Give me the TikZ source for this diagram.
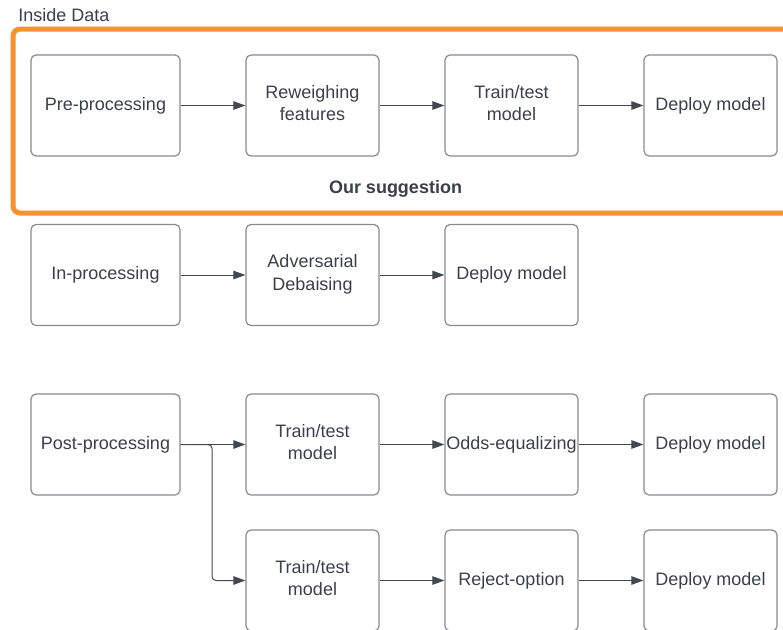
\documentclass[tikz,border=0pt]{standalone}
\usepackage{fontspec}
\setmainfont{Liberation Sans}
\usetikzlibrary{arrows.meta}

\definecolor{txtgray}{RGB}{58,64,74}
\definecolor{boxgray}{RGB}{135,138,144}
\definecolor{linegray}{RGB}{66,71,80}
\definecolor{frameorange}{RGB}{247,146,46}

\tikzset{every picture/.style={line width=0.75pt}}
\tikzset{
  stage/.style={draw=boxgray, line width=1.2pt, rounded corners=5pt, minimum height=101pt,
    align=center, text=txtgray, inner sep=0pt, font=\fontsize{18}{22.5}\selectfont},
  widestage/.style={stage, minimum width=149pt},
  narrowstage/.style={stage, minimum width=133pt},
  twoline/.style={narrowstage, text depth=5.5pt},
  conn/.style={draw=linegray, line width=1pt, -{Triangle[length=12pt,width=8.5pt]}},
  label/.style={text=txtgray, inner sep=0pt, font=\fontsize{18}{22.5}\selectfont}
}

\begin{document}
\begin{tikzpicture}[x=1pt,y=1pt,yscale=-1]
\clip (0,0) rectangle (783,629);

%Shape: Orange frame
\draw [frameorange, line width=5pt, rounded corners=7pt] (13,29) rectangle (820,213) ;

% Text Node
\node [label, anchor=base west] (inside) at (18,21) {Inside Data};
% Text Node
\node [label, anchor=base, font=\fontsize{18}{22.5}\selectfont\bfseries] (ours) at (395.5,193) {Our suggestion};

%Row 1: pre-processing
\node [widestage] (pre) at (105.5,105.5) {Pre-processing};
\node [twoline] (rew) at (312.5,105.5) {Reweighing\\features};
\node [twoline] (train1) at (511.5,105.5) {Train/test\\model};
\node [narrowstage] (deploy1) at (710.5,105.5) {Deploy model};

%Row 2: in-processing
\node [widestage] (in) at (105.5,275) {In-processing};
\node [twoline] (adv) at (312.5,275) {Adversarial\\Debaising};
\node [narrowstage] (deploy2) at (511.5,275) {Deploy model};

%Row 3: post-processing
\node [widestage] (post) at (105.5,444.5) {Post-processing};
\node [twoline] (train3) at (312.5,444.5) {Train/test\\model};
\node [narrowstage] (odds) at (511.5,444.5) {Odds-equalizing};
\node [narrowstage] (deploy3) at (710.5,444.5) {Deploy model};

%Row 4: reject option
\node [twoline] (train4) at (312.5,580.5) {Train/test\\model};
\node [narrowstage] (reject) at (511.5,580.5) {Reject-option};
\node [narrowstage] (deploy4) at (710.5,580.5) {Deploy model};

%Straight Lines
\draw [conn] (pre) -- (rew) ;
\draw [conn] (rew) -- (train1) ;
\draw [conn] (train1) -- (deploy1) ;

\draw [conn] (in) -- (adv) ;
\draw [conn] (adv) -- (deploy2) ;

\draw [conn] (post) -- (train3) ;
\draw [conn] (train3) -- (odds) ;
\draw [conn] (odds) -- (deploy3) ;

\coordinate (split) at (212,444.5) ;
\draw [conn, rounded corners=4pt] (post.east) -- (split) |- (train4.west) ;
\draw [conn] (train4) -- (reject) ;
\draw [conn] (reject) -- (deploy4) ;

\end{tikzpicture}
\end{document}
